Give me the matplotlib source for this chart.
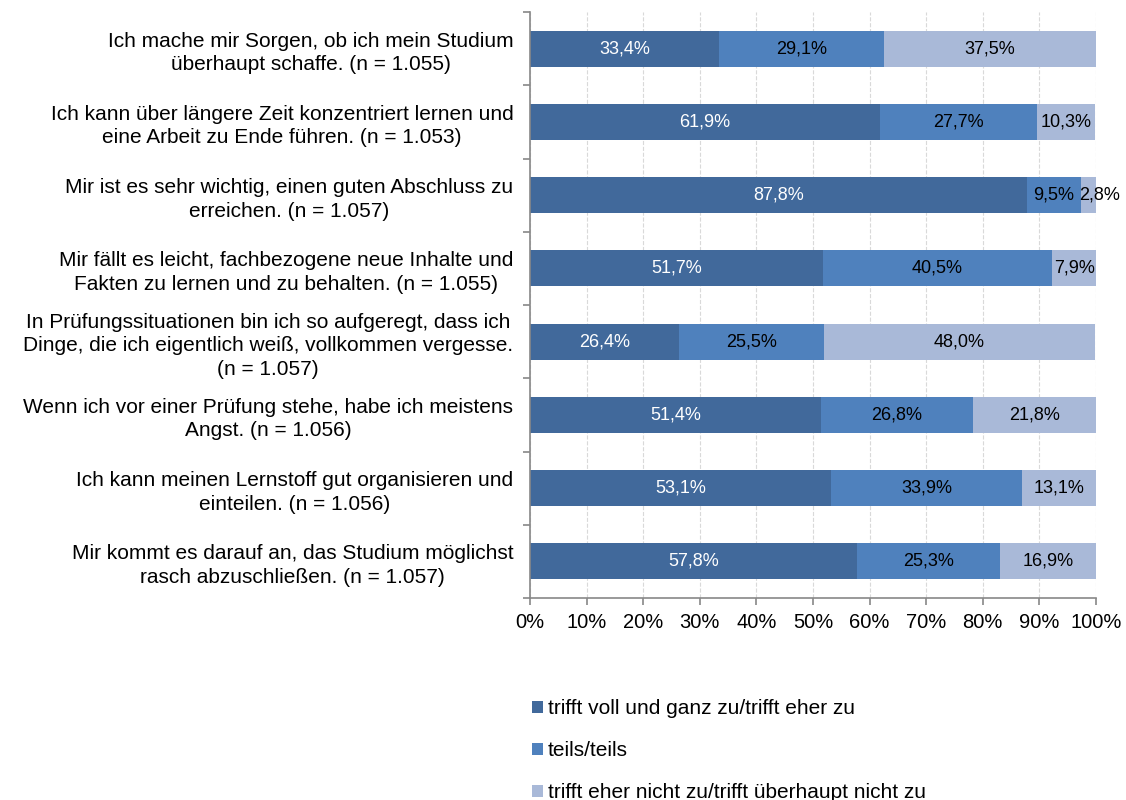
import numpy as np
import matplotlib.pyplot as plt

# Data
statements = [
	"Ich mache mir Sorgen, ob ich mein Studium\nüberhaupt schaffe. (n = 1.055)",
	"Ich kann über längere Zeit konzentriert lernen und\neine Arbeit zu Ende führen. (n = 1.053)",
	"Mir ist es sehr wichtig, einen guten Abschluss zu\nerreichen. (n = 1.057)",
	"Mir fällt es leicht, fachbezogene neue Inhalte und\nFakten zu lernen und zu behalten. (n = 1.055)",
	"In Prüfungssituationen bin ich so aufgeregt, dass ich\nDinge, die ich eigentlich weiß, vollkommen vergesse.\n(n = 1.057)",
	"Wenn ich vor einer Prüfung stehe, habe ich meistens\nAngst. (n = 1.056)",
	"Ich kann meinen Lernstoff gut organisieren und\neinteilen. (n = 1.056)",
	"Mir kommt es darauf an, das Studium möglichst\nrasch abzuschließen. (n = 1.057)",
]
agree = [33.4, 61.9, 87.8, 51.7, 26.4, 51.4, 53.1, 57.8]
partly = [29.1, 27.7, 9.5, 40.5, 25.5, 26.8, 33.9, 25.3]
disagree = [37.5, 10.3, 2.8, 7.9, 48.0, 21.8, 13.1, 16.9]
series_names = [
	"trifft voll und ganz zu/trifft eher zu",
	"teils/teils",
	"trifft eher nicht zu/trifft überhaupt nicht zu",
]
colors = ["#41699B", "#4F81BD", "#A9B9D8"]
text_colors = ["white", "black", "black"]


def fmt(v):
	return f"{v:.1f}%".replace(".", ",")


def main():
	plt.rcParams.update({'font.family': ['Liberation Sans', 'DejaVu Sans']})

	fig = plt.figure(figsize=(11.26, 8), dpi=100)
	ax = fig.add_axes([530 / 1126, 1 - 598 / 800, 566 / 1126, 586 / 800])

	y = np.arange(len(statements))
	left = np.zeros(len(statements))
	for vals, name, c, tc in zip([agree, partly, disagree], series_names, colors, text_colors):
		vals = np.array(vals)
		ax.barh(y, vals, left=left, height=0.49, color=c, label=name, zorder=2)
		for yi, l, v in zip(y, left, vals):
			# very narrow segments: label starts at the segment edge, spills out
			if v < 5:
				ax.text(l - 0.2, yi, fmt(v), ha='left', va='center', color=tc, fontsize=13, zorder=3)
			else:
				ax.text(l + v / 2, yi, fmt(v), ha='center', va='center', color=tc, fontsize=13, zorder=3)
		left += vals

	# Format
	ax.set_xlim(0, 100)
	ax.set_ylim(len(statements) - 0.5, -0.5)
	ax.set_xticks(np.arange(0, 101, 10))
	ax.set_xticklabels([f"{t}%" for t in range(0, 101, 10)], fontsize=14.5)
	ax.set_yticks(y)
	ax.set_yticklabels(statements, fontsize=15, multialignment='center', linespacing=1.3)
	ax.set_yticks(np.arange(-0.5, len(statements), 1), minor=True)
	ax.tick_params(axis='y', which='major', length=0, pad=12)
	ax.tick_params(axis='y', which='minor', length=5, color='#888888', width=1.2)
	ax.tick_params(axis='x', length=5, color='#888888', width=1.2, pad=6)

	ax.grid(axis='x', color='#d9d9d9', linestyle='--', linewidth=0.8, zorder=0)
	for s in ['top', 'right']:
		ax.spines[s].set_visible(False)
	for s in ['left', 'bottom']:
		ax.spines[s].set_color('#888888')
		ax.spines[s].set_linewidth(1.2)

	handles, labels = ax.get_legend_handles_labels()
	fig.legend(handles, labels, loc='upper left', bbox_to_anchor=(524 / 1126, 1 - 691 / 800),
		frameon=False, fontsize=15, handlelength=0.5, handleheight=0.5, handletextpad=0.25,
		labelspacing=1.1, borderaxespad=0)

	plt.savefig("out.png", dpi=100)


if __name__ == '__main__':
	main()
